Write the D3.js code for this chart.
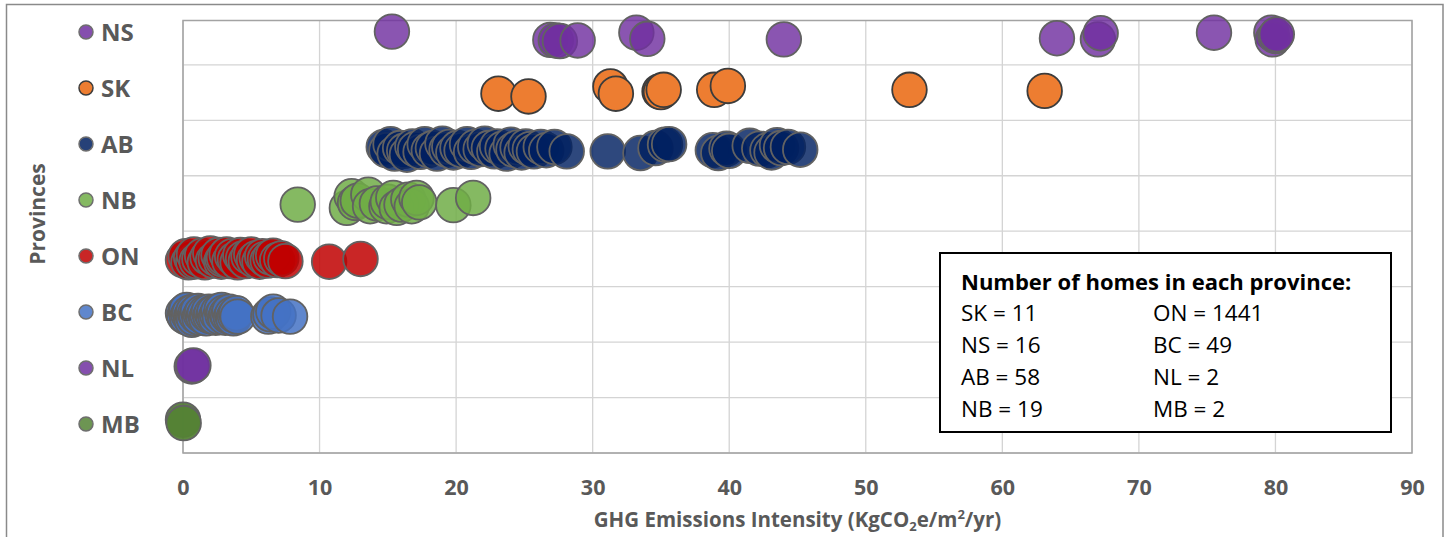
<!DOCTYPE html>
<html>
<head>
<meta charset="utf-8">
<script src="https://cdn.jsdelivr.net/npm/d3@7"></script>
<style>
  html, body { margin: 0; padding: 0; background: #fff; }
  svg { display: block; font-family: "Open Sans", "DejaVu Sans", sans-serif; }
</style>
</head>
<body>
<svg id="chart" width="1448" height="537"></svg>
<script>
// Province rows, listed top to bottom as they appear on the chart
const provinces = ["NS", "SK", "AB", "NB", "ON", "BC", "NL", "MB"];
// Row value on the vertical axis for each province (MB at the bottom)
const rowValues = [7.5, 6.5, 5.5, 4.5, 3.5, 2.5, 1.5, 0.5];

const fillColors = ["#7030A0", "#ED7D31", "#002060", "#70AD47", "#C00000", "#4472C4", "#7030A0", "#548235"];
const fillOpacity = [0.82, 1, 0.82, 0.85, 0.85, 0.85, 0.85, 0.95];

// GHG emissions intensity (kgCO2e/m2/yr) of each home, with its row position
const nsIntensity = [15.3, 26.9, 27.3, 27.6, 28.9, 33.2, 34.0, 44.0, 64.0, 67.0, 67.2, 75.5, 79.7, 79.8, 80.0, 80.1];
const nsRow       = [7.60, 7.45, 7.44, 7.43, 7.44, 7.58, 7.47, 7.46, 7.48, 7.46, 7.57, 7.58, 7.58, 7.46, 7.52, 7.55];

const skIntensity = [23.1, 25.3, 31.3, 31.7, 34.9, 35.0, 35.2, 38.9, 39.9, 53.2, 63.1];
const skRow       = [6.48, 6.43, 6.61, 6.48, 6.52, 6.51, 6.55, 6.55, 6.62, 6.55, 6.53];

const abIntensity = [14.7, 14.9, 15.2, 15.5, 15.9, 16.2, 16.4, 16.8, 17.0, 17.4,
                     17.7, 18.0, 18.3, 18.6, 19.0, 19.3, 19.5, 19.8, 20.1, 20.4,
                     20.8, 21.1, 21.4, 21.8, 22.1, 22.4, 22.8, 23.0, 23.4, 23.7,
                     24.0, 24.2, 24.5, 24.8, 25.1, 25.4, 25.7, 26.2, 26.6, 27.2,
                     28.1, 31.1, 33.5, 34.6, 35.3, 35.6, 38.8, 39.2, 39.8, 40.0,
                     41.5, 42.2, 42.8, 43.1, 43.5, 43.8, 44.3, 45.2];
const abRow       = [5.52, 5.46, 5.57, 5.40, 5.50, 5.45, 5.38, 5.53, 5.48, 5.43,
                     5.57, 5.46, 5.50, 5.40, 5.58, 5.47, 5.52, 5.42, 5.50, 5.46,
                     5.57, 5.43, 5.52, 5.48, 5.58, 5.50, 5.44, 5.53, 5.49, 5.40,
                     5.56, 5.47, 5.51, 5.42, 5.53, 5.48, 5.44, 5.52, 5.46, 5.52,
                     5.44, 5.44, 5.41, 5.50, 5.56, 5.57, 5.46, 5.41, 5.49, 5.45,
                     5.54, 5.49, 5.46, 5.42, 5.55, 5.50, 5.52, 5.47];

const nbIntensity = [8.4, 12.0, 12.35, 12.6, 12.8, 13.57, 13.7, 14.2, 14.9, 15.0,
                     15.4, 15.65, 16.0, 16.5, 16.75, 17.1, 17.3, 19.8, 21.25];
const nbRow       = [4.48, 4.42, 4.63, 4.51, 4.55, 4.66, 4.45, 4.50, 4.45, 4.53,
                     4.60, 4.42, 4.48, 4.57, 4.45, 4.60, 4.52, 4.47, 4.60];

const onIntensity = [0.0, 0.2, 0.4, 0.6, 0.75, 0.8, 1.0, 1.2, 1.4, 1.6, 1.8, 2.0, 2.2, 2.4,
                     2.6, 2.8, 2.9, 3.0, 3.2, 3.4, 3.6, 3.8, 4.0, 4.2, 4.4, 4.6, 4.8, 5.0,
                     5.2, 5.4, 5.6, 5.8, 6.0, 6.2, 6.4, 6.6, 6.9, 7.2, 7.5, 10.7, 13.0];
const onRow       = [3.48, 3.55, 3.44, 3.52, 3.45, 3.58, 3.46, 3.50, 3.56, 3.44, 3.53, 3.60, 3.47, 3.51,
                     3.57, 3.45, 3.49, 3.52, 3.58, 3.46, 3.55, 3.49, 3.44, 3.57, 3.51, 3.46, 3.54, 3.58,
                     3.48, 3.52, 3.45, 3.55, 3.50, 3.47, 3.53, 3.56, 3.48, 3.51, 3.46, 3.45, 3.50];

const bcIntensity = [0.0, 0.1, 0.2, 0.27, 0.3, 0.4, 0.5, 0.6, 0.64, 0.7,
                     0.76, 0.8, 0.9, 1.0, 1.1, 1.2, 1.3, 1.4, 1.5, 1.6,
                     1.7, 1.8, 1.9, 2.0, 2.1, 2.22, 2.3, 2.4, 2.5, 2.6,
                     2.7, 2.83, 2.9, 3.0, 3.1, 3.2, 3.3, 3.4, 3.5, 3.6,
                     3.69, 3.8, 3.9, 4.0, 6.25, 6.4, 6.61, 7.0, 7.84];
const bcRow       = [2.52, 2.47, 2.56, 2.58, 2.44, 2.50, 2.53, 2.46, 2.40, 2.49,
                     2.55, 2.43, 2.51, 2.47, 2.56, 2.44, 2.50, 2.53, 2.46, 2.52,
                     2.43, 2.49, 2.55, 2.47, 2.52, 2.46, 2.54, 2.44, 2.50, 2.56,
                     2.45, 2.58, 2.49, 2.53, 2.44, 2.51, 2.47, 2.55, 2.45, 2.50,
                     2.43, 2.48, 2.52, 2.46, 2.46, 2.50, 2.55, 2.48, 2.46];

const nlIntensity = [0.64, 0.76];
const nlRow       = [1.56, 1.58];

const mbIntensity = [0.0, 0.05];
const mbRow       = [0.60, 0.54];

// Series draw order (bottom row first, as plotted)
const seriesIntensity = { NS: nsIntensity, SK: skIntensity, AB: abIntensity, NB: nbIntensity,
                          ON: onIntensity, BC: bcIntensity, NL: nlIntensity, MB: mbIntensity };
const seriesRow = { NS: nsRow, SK: skRow, AB: abRow, NB: nbRow,
                    ON: onRow, BC: bcRow, NL: nlRow, MB: mbRow };
const drawOrder = ["MB", "NL", "BC", "ON", "NB", "AB", "SK", "NS"];

// Homes counted in each province (legend box, two columns)
const countsLeft  = [["SK", 11], ["NS", 16], ["AB", 58], ["NB", 19]];
const countsRight = [["ON", 1441], ["BC", 49], ["NL", 2], ["MB", 2]];

const xTicks = [0, 10, 20, 30, 40, 50, 60, 70, 80, 90];
const yGrid = [0, 1, 2, 3, 4, 5, 6, 7];

const svg = d3.select("#chart");

const plot = { left: 183, right: 1412, top: 20.5, bottom: 453 };
const x = d3.scaleLinear().domain([0, 90]).range([plot.left, plot.right]);
const y = d3.scaleLinear().domain([0, 7.8]).range([plot.bottom, plot.top]);

// Outer chart frame
svg.append("rect")
  .attr("x", 6.5).attr("y", 4.5)
  .attr("width", 1436.5).attr("height", 560)
  .attr("fill", "none").attr("stroke", "#8a8a8a").attr("stroke-width", 1.5);

// Gridlines
const grid = svg.append("g");
grid.selectAll("line.v").data(xTicks).join("line")
  .attr("x1", d => x(d)).attr("x2", d => x(d))
  .attr("y1", plot.top).attr("y2", plot.bottom)
  .attr("stroke", "#d4d4d4").attr("stroke-width", 1.3);
grid.selectAll("line.h").data(yGrid).join("line")
  .attr("x1", plot.left).attr("x2", plot.right)
  .attr("y1", d => y(d)).attr("y2", d => y(d))
  .attr("stroke", "#d4d4d4").attr("stroke-width", 1.3);

// Plot area border
svg.append("rect")
  .attr("x", plot.left).attr("y", plot.top)
  .attr("width", plot.right - plot.left).attr("height", plot.bottom - plot.top)
  .attr("fill", "none").attr("stroke", "#a3a3a3").attr("stroke-width", 1.5);

// Points
const pts = svg.append("g");
drawOrder.forEach(p => {
  const i = provinces.indexOf(p);
  const xs = seriesIntensity[p], ys = seriesRow[p];
  pts.append("g").selectAll("circle")
    .data(xs.map((v, k) => [v, ys[k]]))
    .join("circle")
    .attr("cx", d => x(d[0]))
    .attr("cy", d => y(d[1]))
    .attr("r", 17.3)
    .attr("fill", fillColors[i])
    .attr("fill-opacity", fillOpacity[i])
    .attr("stroke", p === "SK" ? "#3c3c3c" : "#626262")
    .attr("stroke-width", 1.8);
});

// X axis tick labels
const xAxis = d3.axisBottom(x).tickValues(xTicks).tickSize(0).tickPadding(27);
const gx = svg.append("g").attr("transform", `translate(0,${plot.bottom})`).call(xAxis);
gx.select(".domain").remove();
gx.selectAll("text")
  .attr("fill", "#595959")
  .style("font-family", "'Open Sans', sans-serif")
  .style("font-size", "21.5px")
  .style("font-weight", "bold");

// X axis title
const xt = svg.append("text")
  .attr("x", (plot.left + plot.right) / 2).attr("y", 527)
  .attr("text-anchor", "middle")
  .attr("fill", "#595959")
  .style("font-size", "20.5px").style("font-weight", "bold");
xt.append("tspan").text("GHG Emissions Intensity (KgCO");
xt.append("tspan").attr("dy", 4).style("font-size", "13px").text("2");
xt.append("tspan").attr("dy", -4).text("e/m");
xt.append("tspan").attr("dy", -8).style("font-size", "13px").text("2");
xt.append("tspan").attr("dy", 8).text("/yr)");

// Y axis title
svg.append("text")
  .attr("transform", "translate(45,214) rotate(-90)")
  .attr("text-anchor", "middle")
  .attr("fill", "#595959")
  .style("font-size", "21px").style("font-weight", "bold")
  .text("Provinces");

// Province labels with colour keys
const rowLabel = d3.scalePoint().domain(provinces).range([32, 424]);
const keys = svg.append("g");
provinces.forEach((p, i) => {
  const g = keys.append("g").attr("transform", `translate(0,${rowLabel(p)})`);
  g.append("circle")
    .attr("cx", 86).attr("cy", 0).attr("r", 7)
    .attr("fill", fillColors[i])
    .attr("fill-opacity", p === "SK" ? 1 : 0.85)
    .attr("stroke", p === "SK" ? "#3c3c3c" : "#6e6e6e")
    .attr("stroke-width", 1.5);
  g.append("text")
    .attr("x", 101).attr("y", 8.5)
    .attr("fill", "#595959")
    .style("font-size", "24px").style("font-weight", "bold")
    .text(p);
});

// Legend box with home counts
const box = svg.append("g");
box.append("rect")
  .attr("x", 940).attr("y", 253).attr("width", 451).attr("height", 179)
  .attr("fill", "#fff").attr("stroke", "#000").attr("stroke-width", 2);
box.append("text")
  .attr("x", 961).attr("y", 290)
  .attr("fill", "#000")
  .style("font-size", "22px").style("font-weight", "bold")
  .text("Number of homes in each province:");
const lineY = d3.scalePoint().domain([0, 1, 2, 3]).range([321, 417]);
countsLeft.forEach((c, k) => {
  box.append("text").attr("x", 961).attr("y", lineY(k))
    .attr("fill", "#000").style("font-size", "22.5px")
    .text(`${c[0]} = ${c[1]}`);
});
countsRight.forEach((c, k) => {
  box.append("text").attr("x", 1153).attr("y", lineY(k))
    .attr("fill", "#000").style("font-size", "22.5px")
    .text(`${c[0]} = ${c[1]}`);
});
</script>
</body>
</html>
